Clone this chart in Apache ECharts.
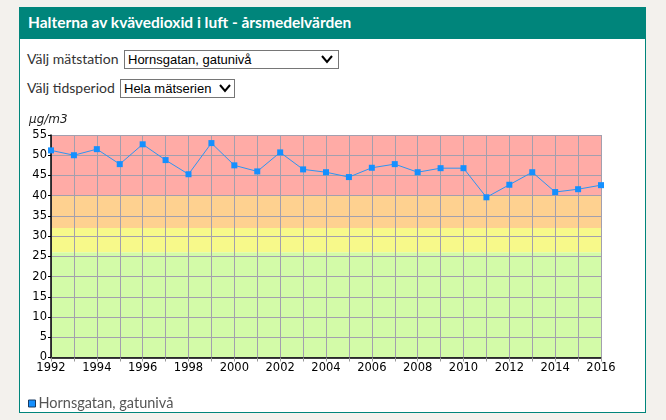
<!DOCTYPE html>
<html><head><meta charset="utf-8">
<script src="https://cdn.jsdelivr.net/npm/echarts@6/dist/echarts.min.js"></script>
<style>
html,body{margin:0;padding:0;width:666px;height:420px;background:#f3f1ed;overflow:hidden;}
#panel{position:absolute;left:19px;top:7px;width:625px;height:404px;background:#fff;border:1px solid #00857b;}
#head{position:absolute;left:0;top:0;width:625px;height:31px;background:#00857b;}
#head span{position:absolute;left:8px;top:5px;color:#fff;font:bold 15.5px Lato,"Open Sans",sans-serif;white-space:nowrap;}
.lbl{position:absolute;font:14px Lato,"Open Sans",sans-serif;color:#333;white-space:nowrap;}
.sel{position:absolute;height:17px;border:1px solid #767676;background:#fff;font:13px "Liberation Sans",Arial,sans-serif;color:#000;line-height:17px;white-space:nowrap;box-sizing:content-box;}
.sel span{position:absolute;left:3px;top:0;}
.sel svg{position:absolute;top:4px;}
#chart{position:absolute;left:0;top:0;width:666px;height:420px;}
</style></head>
<body>
<div id="panel"><div id="head"><span>Halterna av kvävedioxid i luft - årsmedelvärden</span></div></div>
<div class="lbl" style="left:27px;top:50px;">Välj mätstation</div>
<div class="sel" style="left:124px;top:50px;width:213px;"><span>Hornsgatan, gatunivå</span>
<svg width="12" height="9" style="left:196px"><polyline points="1,1 6,7 11,1" fill="none" stroke="#000" stroke-width="2"/></svg></div>
<div class="lbl" style="left:27px;top:79px;">Välj tidsperiod</div>
<div class="sel" style="left:120px;top:79px;width:113px;"><span>Hela mätserien</span>
<svg width="12" height="9" style="left:98px"><polyline points="1,1 6,7 11,1" fill="none" stroke="#000" stroke-width="2"/></svg></div>
<div id="chart"></div>
<script>
const years = [1992,1993,1994,1995,1996,1997,1998,1999,2000,2001,2002,2003,2004,2005,2006,2007,2008,2009,2010,2011,2012,2013,2014,2015,2016];
const values = [51.2,50.0,51.5,47.8,52.7,48.8,45.3,53.0,47.5,46.0,50.7,46.5,45.8,44.6,46.9,47.8,45.8,46.8,46.8,39.6,42.7,45.8,40.9,41.6,42.6];
const seriesName = 'Hornsgatan, gatunivå';
const unitLabel = 'µg/m3';
const bandLimits = [0,26,32,40,55];
const bandColors = ['#d3fba8','#f7f98a','#fed190','#ffaba6'];

const chart = echarts.init(document.getElementById('chart'), null, {renderer:'canvas'});
const bands = [];
for (let i=0;i<bandColors.length;i++){
  bands.push([{yAxis:bandLimits[i], itemStyle:{color:bandColors[i], opacity:1}},{yAxis:bandLimits[i+1]}]);
}
chart.setOption({
  animation:false,
  backgroundColor:'transparent',
  grid:{left:51,right:65,top:135,bottom:62.5,containLabel:false},
  xAxis:{type:'value',min:1992,max:2016,interval:1,z:3,
    axisLine:{show:true,lineStyle:{color:'#000',width:1.5}},
    axisTick:{show:true,length:4,lineStyle:{color:'#999'}},
    axisLabel:{color:'#000',fontFamily:'DejaVu Sans',fontSize:11.5,margin:5,
      formatter:v=> (v%2===0? String(v):'')},
    splitLine:{show:true,lineStyle:{color:'#a39fae',width:1}}},
  yAxis:{type:'value',min:0,max:55,interval:5,z:3,
    axisLine:{show:true,lineStyle:{color:'#000',width:1.5}},
    axisTick:{show:true,length:3,lineStyle:{color:'#000'}},
    axisLabel:{color:'#000',fontFamily:'DejaVu Sans',fontSize:11.5,margin:4},
    splitLine:{show:true,lineStyle:{color:'#a39fae',width:1}}},
  legend:{left:28,top:396,padding:0,icon:'rect',itemWidth:7,itemHeight:7,itemGap:5,
    data:[{name:seriesName,itemStyle:{color:'#1590ff',borderColor:'#1a3a60',borderWidth:1}}],
    textStyle:{color:'#555',fontFamily:'Lato, Open Sans, sans-serif',fontSize:14.5,padding:[0,0,0,-2]}},
  graphic:[{type:'text',left:29,top:114,style:{text:unitLabel,fill:'#222',font:'italic 12px "DejaVu Sans"'}}],
  series:[
    {type:'line',name:'bands',data:[],z:1,silent:true,markArea:{silent:true,data:bands}},
    {type:'line',name:seriesName,z:5,data:years.map((y,i)=>[y,values[i]]),
      symbol:'rect',symbolSize:6,showSymbol:true,
      itemStyle:{color:'#1590ff'},lineStyle:{color:'#2d95f2',width:1}}
  ]
});
</script>
</body></html>
